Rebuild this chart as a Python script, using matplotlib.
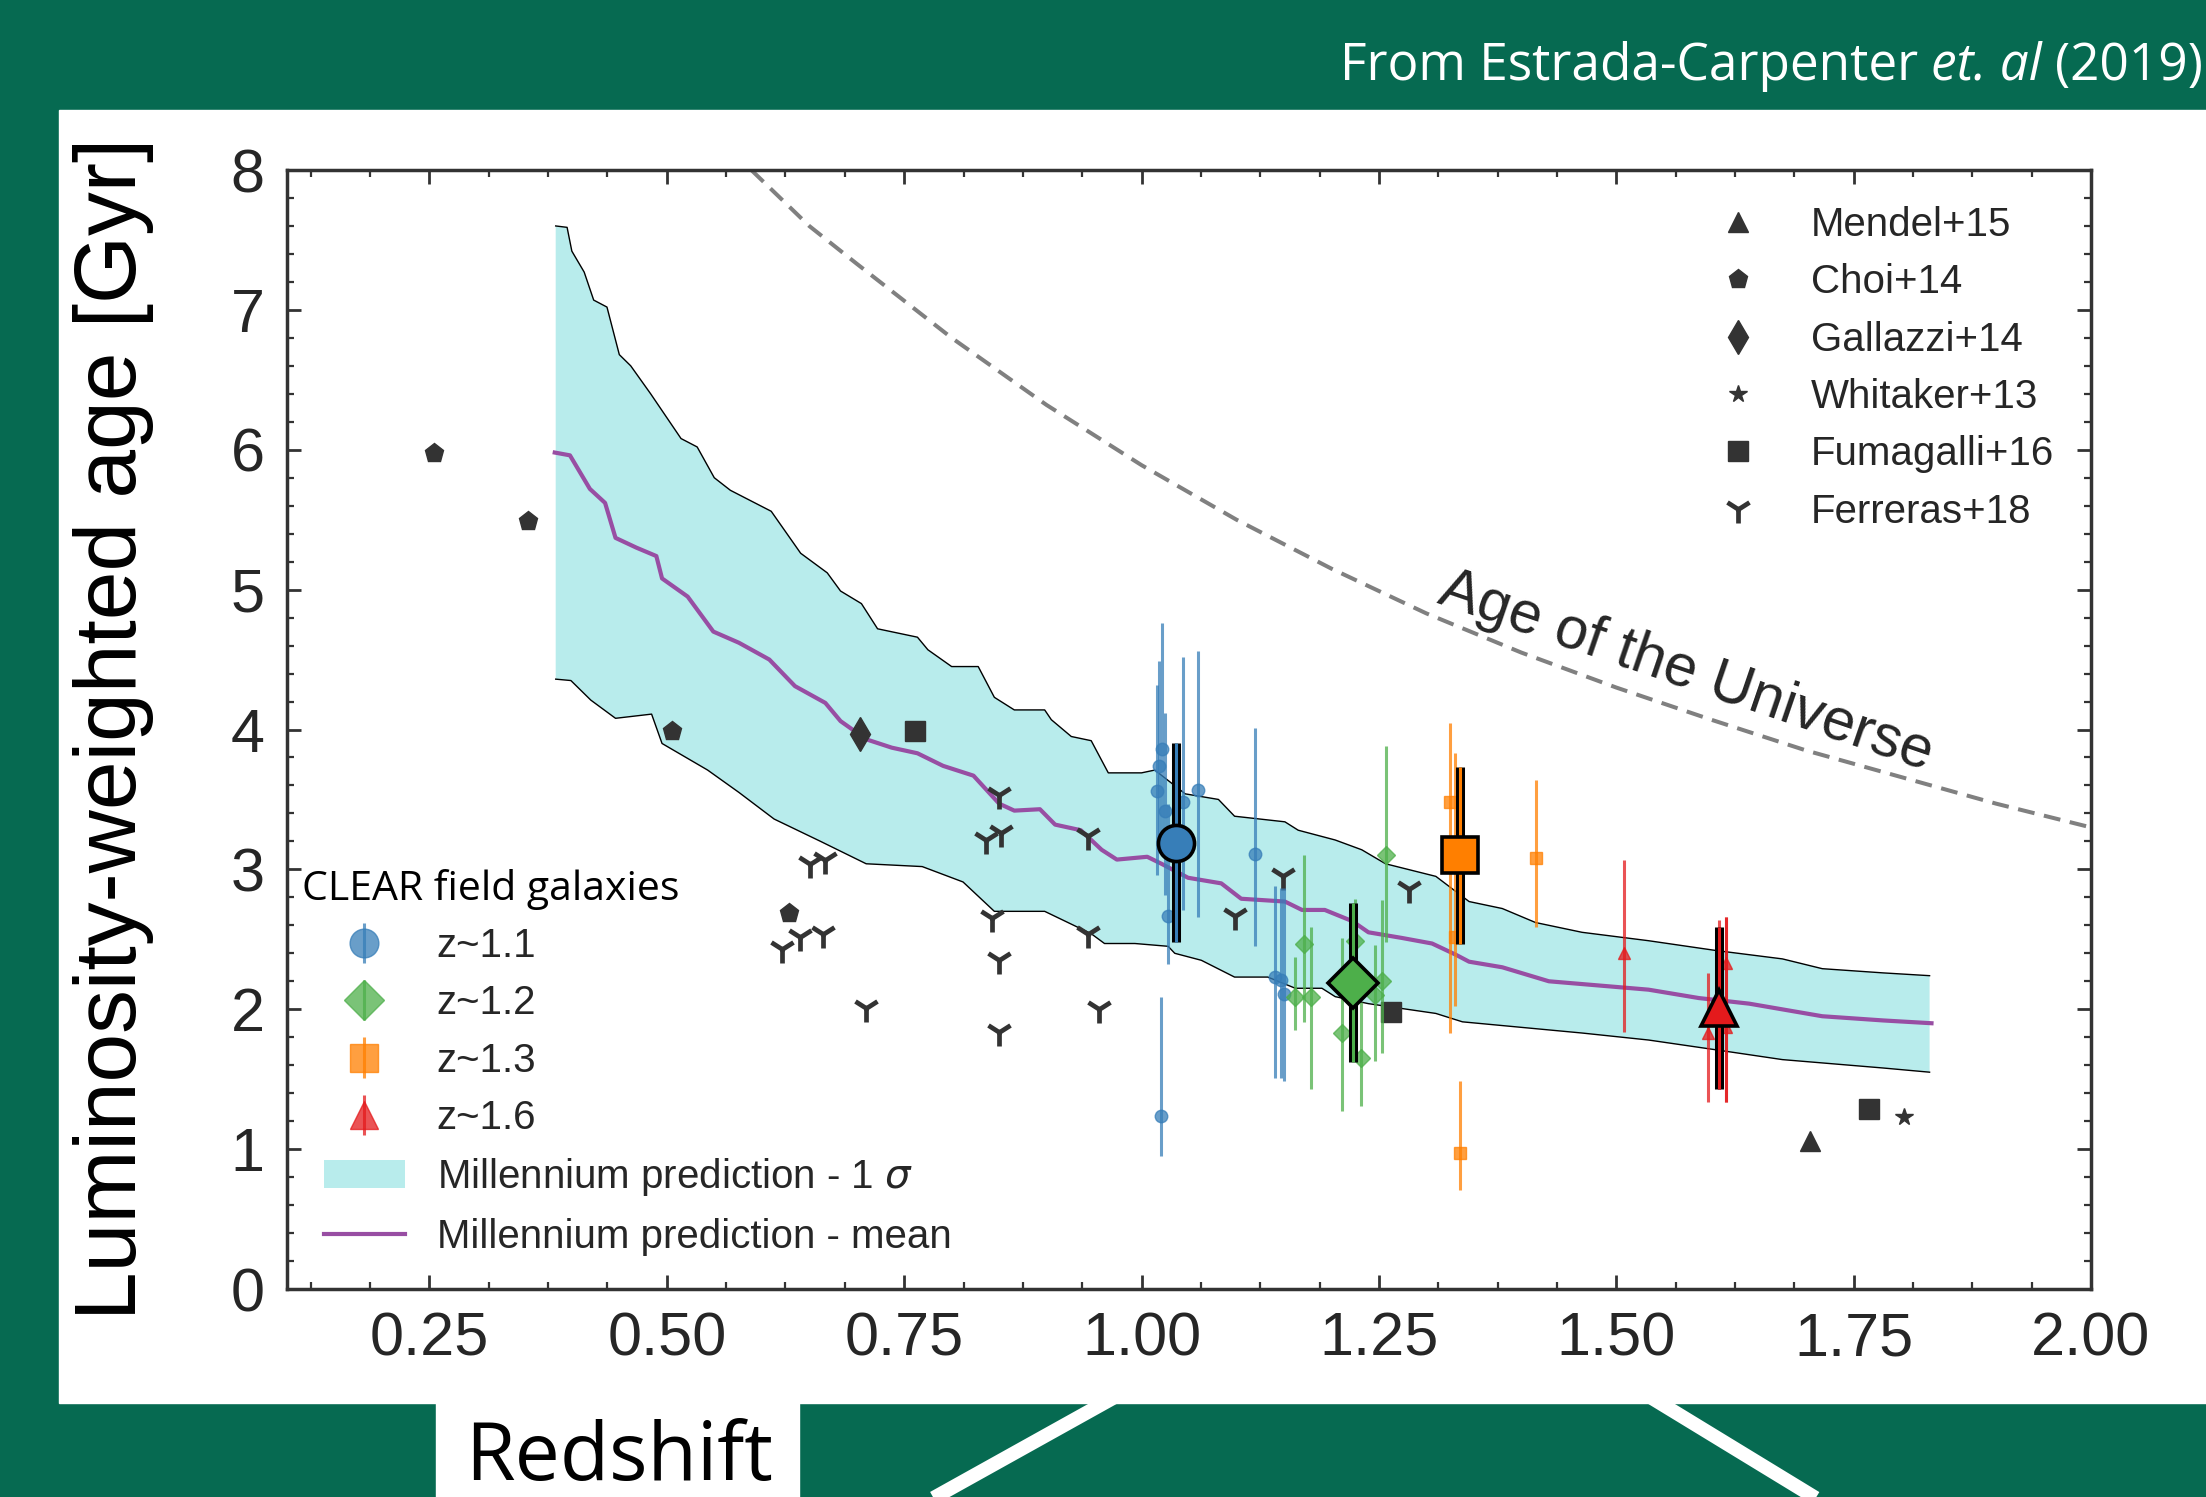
import numpy as np
import matplotlib
matplotlib.use('Agg')
import matplotlib.pyplot as plt
from matplotlib.patches import Rectangle
from matplotlib.lines import Line2D
from matplotlib.ticker import MultipleLocator, AutoMinorLocator, FormatStrFormatter

plt.rcParams['font.family'] = ['Liberation Sans', 'DejaVu Sans']

# ---- data ----
# Millennium prediction (1 sigma band edges and mean)
upper_z = [0.383, 0.395, 0.400, 0.413, 0.423, 0.437, 0.450, 0.462, 0.483, 0.497, 0.515, 0.532,
           0.550, 0.567, 0.610, 0.641, 0.669, 0.683, 0.705, 0.722, 0.764, 0.775, 0.800, 0.828,
           0.845, 0.866, 0.898, 0.905, 0.926, 0.947, 0.965, 1.000, 1.014, 1.046, 1.081, 1.098,
           1.151, 1.165, 1.204, 1.232, 1.257, 1.310, 1.345, 1.380, 1.415, 1.464, 1.534, 1.605,
           1.675, 1.717, 1.781, 1.830]
upper_age = [7.60, 7.59, 7.42, 7.27, 7.07, 7.02, 6.68, 6.60, 6.40, 6.26, 6.08, 6.02,
             5.80, 5.71, 5.56, 5.26, 5.12, 4.99, 4.90, 4.72, 4.66, 4.57, 4.45, 4.45,
             4.23, 4.14, 4.14, 4.07, 3.95, 3.92, 3.69, 3.69, 3.71, 3.54, 3.50, 3.38,
             3.34, 3.28, 3.21, 3.14, 3.04, 2.95, 2.77, 2.72, 2.62, 2.55, 2.49, 2.42,
             2.36, 2.29, 2.26, 2.24]
lower_z = [0.383, 0.399, 0.420, 0.446, 0.484, 0.495, 0.543, 0.576, 0.613, 0.662, 0.710, 0.769,
           0.812, 0.845, 0.898, 0.947, 0.961, 0.993, 1.028, 1.035, 1.063, 1.098, 1.133, 1.162,
           1.190, 1.204, 1.239, 1.310, 1.338, 1.401, 1.464, 1.534, 1.605, 1.675, 1.781, 1.830]
lower_age = [4.36, 4.35, 4.21, 4.08, 4.11, 3.90, 3.71, 3.55, 3.36, 3.20, 3.04, 3.02,
             2.91, 2.70, 2.70, 2.54, 2.47, 2.47, 2.45, 2.40, 2.35, 2.23, 2.23, 2.15,
             2.15, 2.09, 2.04, 1.97, 1.91, 1.87, 1.83, 1.78, 1.71, 1.64, 1.58, 1.55]
mean_z = [0.382, 0.398, 0.419, 0.435, 0.446, 0.468, 0.489, 0.495, 0.522, 0.549, 0.576, 0.608,
          0.635, 0.667, 0.683, 0.710, 0.737, 0.764, 0.791, 0.823, 0.850, 0.866, 0.893, 0.909,
          0.936, 0.958, 0.974, 1.006, 1.021, 1.049, 1.084, 1.105, 1.151, 1.169, 1.193, 1.222,
          1.239, 1.274, 1.306, 1.331, 1.345, 1.380, 1.429, 1.464, 1.534, 1.587, 1.640, 1.717,
          1.781, 1.832]
mean_age = [5.98, 5.96, 5.72, 5.62, 5.37, 5.30, 5.24, 5.08, 4.95, 4.70, 4.62, 4.50,
            4.31, 4.19, 4.06, 3.93, 3.87, 3.83, 3.74, 3.67, 3.47, 3.42, 3.43, 3.32,
            3.28, 3.14, 3.07, 3.09, 3.04, 2.94, 2.90, 2.79, 2.77, 2.71, 2.71, 2.63,
            2.55, 2.51, 2.47, 2.39, 2.34, 2.30, 2.20, 2.18, 2.14, 2.08, 2.04, 1.95,
            1.92, 1.90]

# age of the universe (dashed curve)
universe_z = [0.589, 0.65, 0.70, 0.80, 0.90, 1.00, 1.10, 1.20, 1.30, 1.40, 1.50, 1.60,
              1.70, 1.80, 1.90, 2.00]
universe_age = [8.00, 7.60, 7.33, 6.80, 6.32, 5.89, 5.50, 5.15, 4.83, 4.55, 4.30, 4.07,
                3.85, 3.66, 3.47, 3.30]

# literature
mendel_z, mendel_age = [1.704], [1.06]
choi_z, choi_age = [0.255, 0.354, 0.506, 0.629], [5.98, 5.49, 3.99, 2.69]
gallazzi_z, gallazzi_age = [0.704], [3.97]
whitaker_z, whitaker_age = [1.803], [1.23]
fumagalli_z, fumagalli_age = [0.761, 1.263, 1.766], [3.99, 1.98, 1.29]
ferreras_z = [0.621, 0.640, 0.651, 0.664, 0.667, 0.710, 0.836, 0.842, 0.850, 0.850, 0.850,
              0.852, 0.944, 0.944, 0.955, 1.098, 1.149, 1.282]
ferreras_age = [2.43, 2.52, 3.04, 2.54, 3.07, 2.01, 3.21, 2.65, 3.53, 2.35, 1.84,
                3.26, 3.24, 2.54, 2.00, 2.67, 2.95, 2.86]

# CLEAR galaxies
blue_z = [1.016, 1.018, 1.020, 1.022, 1.025, 1.028, 1.044, 1.059, 1.119, 1.141, 1.147, 1.150]
blue_age = [3.56, 3.74, 1.24, 3.86, 3.42, 2.67, 3.48, 3.57, 3.11, 2.23, 2.21, 2.11]
blue_lo = [0.60, 0.60, 0.29, 0.65, 0.60, 0.35, 0.77, 0.91, 0.66, 0.72, 0.70, 0.62]
blue_hi = [0.76, 0.75, 0.85, 0.90, 0.70, 0.80, 1.04, 0.99, 0.90, 0.65, 0.66, 0.76]

green_z = [1.162, 1.171, 1.178, 1.211, 1.225, 1.231, 1.246, 1.253, 1.257]
green_age = [2.09, 2.47, 2.09, 1.83, 2.49, 1.65, 2.10, 2.20, 3.10]
green_lo = [0.24, 0.56, 0.66, 0.56, 0.30, 0.34, 0.47, 0.51, 0.62]
green_hi = [0.28, 0.63, 0.50, 0.68, 0.30, 0.40, 0.36, 0.58, 0.78]

orange_z = [1.325, 1.330, 1.335, 1.415]
orange_age = [3.48, 2.52, 0.97, 3.08]
orange_lo = [1.65, 0.50, 0.26, 0.49]
orange_hi = [0.57, 1.31, 0.52, 0.56]

red_z = [1.508, 1.597, 1.608, 1.616, 1.616]
red_age = [2.40, 1.83, 2.03, 2.33, 1.87]
red_lo = [0.56, 0.49, 0.60, 0.99, 0.53]
red_hi = [0.67, 0.43, 0.61, 0.33, 0.79]

# stacked values for each redshift bin
stack_z = [1.036, 1.223, 1.335, 1.608]
stack_age = [3.19, 2.19, 3.10, 2.01]
stack_err = [0.71, 0.57, 0.63, 0.58]

bin_labels = ['z~1.1', 'z~1.2', 'z~1.3', 'z~1.6']
lit_labels = ['Mendel+15', 'Choi+14', 'Gallazzi+14', 'Whitaker+13', 'Fumagalli+16', 'Ferreras+18']

# ---- figure ----
W, H = 2206, 1497
GREEN = '#066a51'
DARK = '#262626'
LIT = '#333333'
fig = plt.figure(figsize=(W / 100, H / 100), dpi=100, facecolor=GREEN)


def fx(px):
    return px / W


def fy(py):
    return 1 - py / H


# slide decoration
fig.add_artist(Rectangle((fx(59), fy(1403)), 1 - fx(59), fy(110) - fy(1403),
                         transform=fig.transFigure, color='white', zorder=0))
fig.add_artist(Rectangle((fx(436), 0), fx(799) - fx(436), fy(1403),
                         transform=fig.transFigure, color='white', zorder=0))
for (x0, y0, x1, y1) in [(1149, 1378, 885, 1525), (1619, 1378, 1860, 1525)]:
    fig.add_artist(Line2D([fx(x0), fx(x1)], [fy(y0), fy(y1)], transform=fig.transFigure,
                          color='white', lw=10, solid_capstyle='butt', zorder=0.5))

ax = fig.add_axes([fx(287), fy(1289), (2091 - 287) / W, (1289 - 170) / H])

# Millennium band
ax.fill(np.concatenate([upper_z, lower_z[::-1]]), np.concatenate([upper_age, lower_age[::-1]]),
        facecolor='#b8ecec', edgecolor='none', zorder=1)
band_patch = ax.fill([], [], facecolor='#b8ecec', edgecolor='none')[0]
ax.plot(upper_z, upper_age, color='black', lw=1.0, zorder=2)
ax.plot(lower_z, lower_age, color='black', lw=1.0, zorder=2)
mean_line, = ax.plot(mean_z, mean_age, color='#984ea3', lw=3.0, zorder=3)

# age of the universe
ax.plot(universe_z, universe_age, color='#808080', lw=2.9, ls=(0, (4.2, 2.4)), zorder=2)
ax.text(1.568, 4.31, 'Age of the Universe', rotation=-18.9, rotation_mode='anchor',
        ha='center', va='baseline', fontsize=42.5, color=DARK)

# literature points
lit = []
lit.append(ax.plot(mendel_z, mendel_age, '^', color=LIT, ms=14, ls='none', zorder=4)[0])
lit.append(ax.plot(choi_z, choi_age, 'p', color=LIT, ms=14, ls='none', zorder=4)[0])
lit.append(ax.plot(gallazzi_z, gallazzi_age, 'd', color=LIT, ms=17, ls='none', zorder=4)[0])
lit.append(ax.plot(whitaker_z, whitaker_age, '*', color=LIT, ms=13, ls='none', zorder=4)[0])
lit.append(ax.plot(fumagalli_z, fumagalli_age, 's', color=LIT, ms=14, ls='none', zorder=4)[0])
lit.append(ax.plot(ferreras_z, ferreras_age, '1', color=LIT, ms=20, mew=3.4, ls='none', zorder=4)[0])

# CLEAR galaxies
colors = ['#377eb8', '#4daf4a', '#ff7f00', '#e41a1c']
markers = ['o', 'D', 's', '^']
groups = [(blue_z, blue_age, blue_lo, blue_hi), (green_z, green_age, green_lo, green_hi),
          (orange_z, orange_age, orange_lo, orange_hi), (red_z, red_age, red_lo, red_hi)]
clear = []
for (z, a, lo, hi), c, m in zip(groups, colors, markers):
    eb = ax.errorbar(z, a, yerr=[lo, hi], fmt=m, color=c, ms=9, elinewidth=2.2,
                     capsize=0, alpha=0.75, zorder=5)
    clear.append(eb)

for i in range(4):
    ax.errorbar(stack_z[i], stack_age[i], yerr=stack_err[i], fmt='none', ecolor='black',
                elinewidth=6.5, capsize=0, zorder=6)
    ax.errorbar(stack_z[i], stack_age[i], yerr=stack_err[i], fmt='none', ecolor=colors[i],
                elinewidth=2.2, capsize=0, zorder=6.1)
    ms = 25 if markers[i] == 'D' else 26
    ax.plot(stack_z[i], stack_age[i], markers[i], color=colors[i], ms=ms, mec='black',
            mew=2.6, zorder=6.2)

# axes styling
ax.set_xlim(0.1, 2.0)
ax.set_ylim(0, 8)
ax.xaxis.set_major_locator(MultipleLocator(0.25))
ax.xaxis.set_major_formatter(FormatStrFormatter('%.2f'))
ax.xaxis.set_minor_locator(AutoMinorLocator(4))
ax.yaxis.set_major_locator(MultipleLocator(1))
ax.yaxis.set_minor_locator(AutoMinorLocator(5))
ax.tick_params(which='both', direction='in', top=True, right=True, color=LIT,
               labelsize=44, labelcolor=DARK, pad=16)
ax.tick_params(which='major', length=10, width=2)
ax.tick_params(which='minor', length=5, width=1.6)
for sp in ax.spines.values():
    sp.set_linewidth(2.5)
    sp.set_color(LIT)

# legends
leg1 = ax.legend(clear + [band_patch, mean_line],
                 bin_labels + ['Millennium prediction - 1 $\\sigma$', 'Millennium prediction - mean'],
                 loc='upper left', bbox_to_anchor=(fx(324), fy(927)), bbox_transform=fig.transFigure,
                 frameon=False, borderpad=0, borderaxespad=0, handlelength=2.0, handletextpad=0.8,
                 labelspacing=0.48, markerscale=2.3, fontsize=29, labelcolor=DARK)
ax.add_artist(leg1)
ax.legend(lit, lit_labels, loc='upper left', bbox_to_anchor=(fx(1698), fy(206)),
          bbox_transform=fig.transFigure, frameon=False, borderpad=0, borderaxespad=0,
          handlelength=2.0, handletextpad=0.8, labelspacing=0.48, fontsize=29, labelcolor=DARK)

# slide texts
fig.text(fx(302), fy(900), 'CLEAR field galaxies', family='Open Sans', fontsize=29.5,
         color='black', ha='left', va='baseline')
fig.text(fx(114), fy(729), 'Luminosity-weighted age [Gyr]', rotation=90, fontsize=63,
         color='black', ha='center', va='center')
fig.text(fx(619), fy(1480), 'Redshift', family='Open Sans', fontsize=58, color='black',
         ha='center', va='baseline')

t3 = fig.text(fx(2203), fy(80), '(2019)', family='Open Sans', fontsize=37, color='white',
              ha='right', va='baseline')
t2 = ax.annotate('et. al', xy=(0, 0), xycoords=t3, xytext=(-9.6, 0), textcoords='offset points',
                 family='Open Sans', style='italic', fontsize=37, color='white',
                 ha='right', va='bottom', annotation_clip=False)
ax.annotate('From Estrada-Carpenter', xy=(0, 0), xycoords=t2, xytext=(-9.6, 0),
            textcoords='offset points', family='Open Sans', fontsize=37, color='white',
            ha='right', va='bottom', annotation_clip=False)

fig.savefig('out.png', dpi=100, facecolor=GREEN)
